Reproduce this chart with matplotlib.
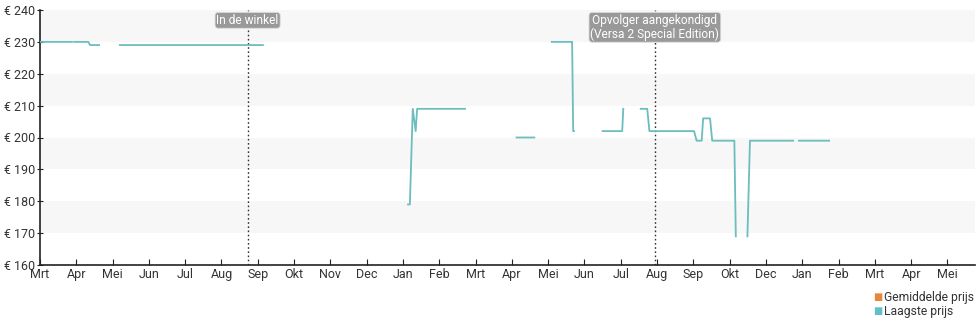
import matplotlib
matplotlib.use("Agg")
import matplotlib.pyplot as plt
import numpy as np

plt.rcParams['font.family'] = ['Roboto', 'DejaVu Sans']

# x in months since the first "Mrt" tick, NaN breaks the line
price_x = [0.00, 0.88, np.nan, 0.94, 1.33, 1.38, 1.63, np.nan, 2.20, 6.14, np.nan,
           10.14, 10.19, 10.27, 10.35, 10.39, 11.71, np.nan,
           13.13, 13.62, np.nan,
           14.10, 14.66, 14.69, 14.71, np.nan,
           15.50, 16.04, 16.07, np.nan,
           16.55, 16.73, 16.79, 18.02, 18.09, 18.23, 18.27, 18.46, 18.52, 18.80, np.nan,
           18.85, 19.13, 19.17, np.nan,
           19.49, 19.56, 20.75, np.nan,
           20.91, 21.74]
price_y = [230, 230, np.nan, 230, 230, 229, 229, np.nan, 229, 229, np.nan,
           179, 179, 209, 202, 209, 209, np.nan,
           200, 200, np.nan,
           230, 230, 202, 202, np.nan,
           202, 202, 209, np.nan,
           209, 209, 202, 202, 199, 199, 206, 206, 199, 199, np.nan,
           199, 199, 169, np.nan,
           169, 199, 199, np.nan,
           199, 199]

month_labels = ["Mrt", "Apr", "Mei", "Jun", "Jul", "Aug", "Sep", "Okt", "Nov", "Dec",
                "Jan", "Feb", "Mrt", "Apr", "Mei", "Jun", "Jul", "Aug", "Sep", "Okt",
                "Dec", "Jan", "Feb", "Mrt", "Apr", "Mei"]
y_ticks = [160, 170, 180, 190, 200, 210, 220, 230, 240]

events_x = [5.72, 16.94]
events_text = ["In de winkel", "Opvolger aangekondigd\n(Versa 2 Special Edition)"]

fig = plt.figure(figsize=(9.8, 3.25), dpi=100)
ax = fig.add_axes([40 / 980, 60 / 325, 935 / 980, 255 / 325])

# alternating bands
for lo in [170, 190, 210, 230]:
    ax.axhspan(lo, lo + 10, color="#f7f7f7", zorder=0, lw=0)

ax.plot(price_x, price_y, color="#6cbdbd", lw=1.3, zorder=3)

for ex, txt in zip(events_x, events_text):
    ax.axvline(ex, color="#333333", lw=1, ls=(0, (1.2, 1.8)), zorder=2)
    ax.annotate(txt, xy=(ex, 0.985), xycoords=("data", "axes fraction"),
                ha="center", va="top", fontsize=8.6, color="white", zorder=5,
                linespacing=1.05,
                bbox=dict(boxstyle="round,pad=0.12,rounding_size=0.25",
                          fc="#999999", ec="#dddddd", lw=0.6))

ax.set_xlim(0, 25.76)
ax.set_ylim(160, 240)
ax.set_xticks(range(len(month_labels)))
ax.set_xticklabels(month_labels)
ax.set_yticks(y_ticks)
ax.set_yticklabels([f"€ {v}" for v in y_ticks])

for s in ["top", "right"]:
    ax.spines[s].set_visible(False)
for s in ["left", "bottom"]:
    ax.spines[s].set_color("#222222")
    ax.spines[s].set_linewidth(1.2)

ax.tick_params(axis="x", direction="in", length=4, pad=2, labelsize=9,
               labelcolor="#333333", color="#222222")
ax.tick_params(axis="y", direction="inout", length=5, pad=1, labelsize=9,
               labelcolor="#333333", color="#222222")

# legend
fig.text(873 / 980, 1 - 297 / 325, "■", color="#e8873a", fontsize=7, va="center", ha="left")
fig.text(884 / 980, 1 - 297 / 325, "Gemiddelde prijs", color="#333333", fontsize=8.7, va="center", ha="left")
fig.text(873 / 980, 1 - 311 / 325, "■", color="#5fc0c8", fontsize=7, va="center", ha="left")
fig.text(884 / 980, 1 - 311 / 325, "Laagste prijs", color="#333333", fontsize=8.7, va="center", ha="left")

fig.savefig("out.png", dpi=100)
